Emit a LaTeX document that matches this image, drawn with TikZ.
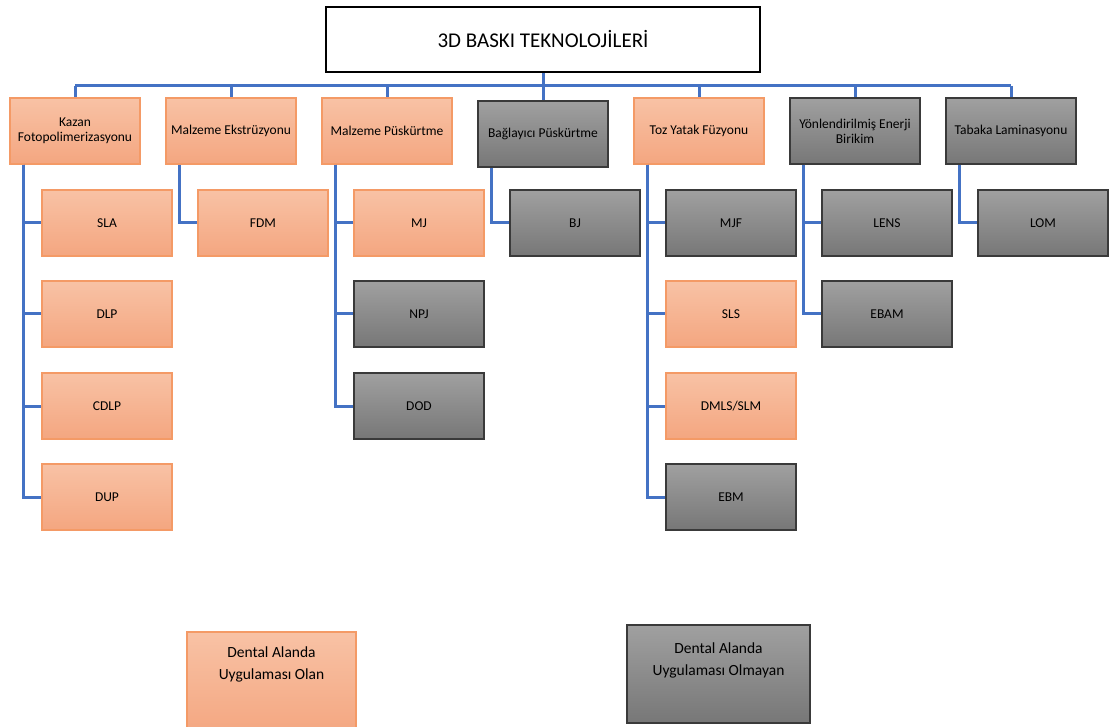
\documentclass[tikz,border=0pt]{standalone}
\usepackage{fontspec}
\setmainfont{Carlito}
\definecolor{blu}{HTML}{4472C4}
\definecolor{oTop}{HTML}{F8C2A5}
\definecolor{oBot}{HTML}{F4A680}
\definecolor{oLine}{HTML}{F49A66}
\definecolor{gTop}{HTML}{A0A0A0}
\definecolor{gBot}{HTML}{777777}
\definecolor{gLine}{HTML}{3A3A3A}
\tikzset{
  conn/.style={draw=blu, line width=3pt},
  basebox/.style={minimum width=130pt, minimum height=66pt, inner sep=2pt, align=center, font=\fontsize{13.5}{15}\selectfont, text=black},
  obox/.style={basebox, top color=oTop, bottom color=oBot, draw=oLine, line width=1.3pt},
  gbox/.style={basebox, top color=gTop, bottom color=gBot, draw=gLine, line width=1.4pt},
  rootbox/.style={draw=black, fill=white, line width=2.4pt, minimum width=434pt, minimum height=65pt, font=\fontsize{21}{24}\selectfont},
}
\begin{document}
\begin{tikzpicture}[x=1pt,y=-1pt]
\useasboundingbox (0,0) rectangle (1109,727);

\node[rootbox] (root) at (543,39.5) {3D BASKI TEKNOLOJİLERİ};

% level 1
\node[obox] (kazan) at (75,131) {Kazan\\Fotopolimerizasyonu};
\node[obox] (eks) at (231,131) {Malzeme Ekstrüzyonu};
\node[obox] (pus) at (387,131) {Malzeme Püskürtme};
\node[gbox] (bag) at (543,134) {Bağlayıcı Püskürtme};
\node[obox] (toz) at (699,131) {Toz Yatak Füzyonu};
\node[gbox] (yon) at (855,131) {Yönlendirilmiş Enerji\\Birikim};
\node[gbox] (tab) at (1011,131) {Tabaka Laminasyonu};

% level 2
\node[obox] (sla) at (107,223) {SLA};
\node[obox] (dlp) at (107,314) {DLP};
\node[obox] (cdlp) at (107,406) {CDLP};
\node[obox] (dup) at (107,497) {DUP};

\node[obox] (fdm) at (263,223) {FDM};

\node[obox] (mj) at (419,223) {MJ};
\node[gbox] (npj) at (419,314) {NPJ};
\node[gbox] (dod) at (419,406) {DOD};

\node[gbox] (bj) at (575,223) {BJ};

\node[gbox] (mjf) at (731,223) {MJF};
\node[obox] (sls) at (731,314) {SLS};
\node[obox] (dmls) at (731,406) {DMLS/SLM};
\node[gbox] (ebm) at (731,497) {EBM};

\node[gbox] (lens) at (887,223) {LENS};
\node[gbox] (ebam) at (887,314) {EBAM};

\node[gbox] (lom) at (1043,223) {LOM};

% bus
\coordinate (bus) at (543,86);
\draw[conn] (root.south) -- (bus);
\draw[conn] (bus -| kazan.north) -- (bus -| tab.north);
\foreach \n in {kazan,eks,pus,bag,toz,yon,tab}
  \draw[conn] (bus -| \n.north) -- (\n.north);

% children
\foreach \p/\c in {kazan/sla,kazan/dlp,kazan/cdlp,kazan/dup,eks/fdm,pus/mj,pus/npj,pus/dod,bag/bj,toz/mjf,toz/sls,toz/dmls,toz/ebm,yon/lens,yon/ebam,tab/lom}
  \draw[conn] ([xshift=-52pt]\p.south) |- (\c.west);

% legend
\node[obox, minimum width=169pt, minimum height=104pt, label={[below=12pt, align=center, font=\fontsize{15.5}{22}\selectfont]north:{Dental Alanda\\Uygulaması Olan}}] (legA) at (271.5,684) {};
\node[gbox, minimum width=183pt, minimum height=98pt, label={[below=15pt, align=center, font=\fontsize{15.5}{22}\selectfont]north:{Dental Alanda\\Uygulaması Olmayan}}] (legB) at (718.5,674) {};
\end{tikzpicture}
\end{document}
